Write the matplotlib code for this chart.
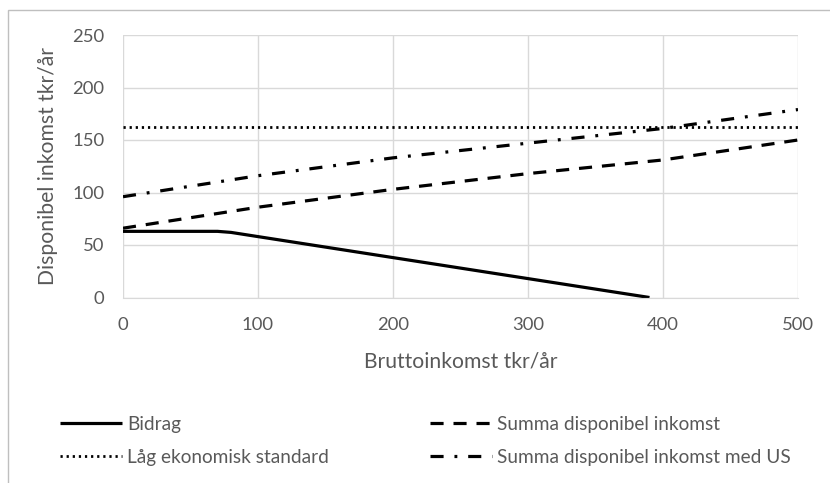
import matplotlib.pyplot as plt
from matplotlib.patches import Rectangle

# data
brutto = [0, 100, 200, 300, 400, 500]
bidrag_x = [0, 70, 80, 90, 100, 390]
bidrag_y = [63, 63, 62, 60, 58, 0]
summa = [66, 86, 103, 118, 131, 150]
summa_us = [96, 116, 133, 147, 161, 179]
lag_std = [162, 162, 162, 162, 162, 162]

grey = '#595959'
plt.rcParams['font.family'] = ['Lato', 'DejaVu Sans']

fig = plt.figure(figsize=(8.3, 4.83), dpi=100)
ax = fig.add_axes([123 / 830, 1 - 297.5 / 483, 675 / 830, 262.5 / 483])

l1, = ax.plot(bidrag_x, bidrag_y, color='black', lw=2.3, label='Bidrag',
              solid_capstyle='butt')
l2, = ax.plot(brutto, summa, color='black', lw=2.3, dashes=(4.1, 3.1),
              label='Summa disponibel inkomst')
l3, = ax.plot(brutto, lag_std, color='black', lw=2.0, dashes=(0.8, 1.4),
              label='Låg ekonomisk standard')
l4, = ax.plot(brutto, summa_us, color='black', lw=2.3,
              dashes=(4.1, 3.4, 0.9, 3.4),
              label='Summa disponibel inkomst med US')

ax.set_xlim(0, 500)
ax.set_ylim(0, 250)
ax.set_xticks(range(0, 501, 100))
ax.set_yticks(range(0, 251, 50))
ax.grid(color='#d9d9d9', lw=1)
ax.set_axisbelow(True)
for s in ['top', 'right', 'left']:
    ax.spines[s].set_visible(False)
ax.spines['bottom'].set_color('#d9d9d9')
ax.tick_params(length=0, labelsize=13.3, labelcolor=grey)
ax.tick_params(axis='x', pad=14)
ax.tick_params(axis='y', pad=13.5)

ax.set_xlabel('Bruttoinkomst tkr/år', fontsize=15.2, color=grey, va='center')
ax.xaxis.set_label_coords(0.5, (297.5 - 361) / 262.5)
ax.set_ylabel('Disponibel inkomst tkr/år', fontsize=15.2, color=grey)
ax.yaxis.set_label_coords((58 - 123) / 675, 0.5)

legs = []
for handles, x0 in [([l1, l3], 60), ([l2, l4], 430)]:
    leg = fig.legend(handles=handles, loc='center left',
                     bbox_to_anchor=(x0 / 830, 1 - 441 / 483), ncol=1,
                     frameon=False, fontsize=13.7, handlelength=3.26,
                     handletextpad=0.26, labelspacing=0.85, borderpad=0,
                     borderaxespad=0)
    for t in leg.get_texts():
        t.set_color(grey)

fig.patches.append(Rectangle((8 / 830, -0.1), 1.2, 1 - 10 / 483 + 0.1,
                             transform=fig.transFigure, fill=False,
                             edgecolor='#bfbfbf', lw=1))

fig.savefig('out.png', dpi=100)
